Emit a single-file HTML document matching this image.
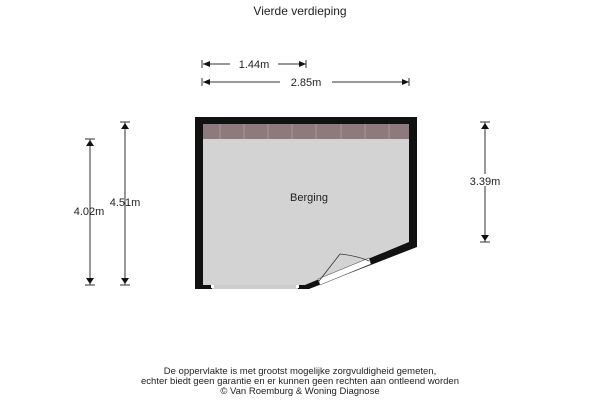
<!DOCTYPE html>
<html><head><style>
body{margin:0;background:#fff;width:600px;height:400px;overflow:hidden}
svg text{font-family:"Liberation Sans",sans-serif;fill:#222}
</style></head><body>
<svg width="600" height="400" viewBox="0 0 600 400">
<text x="300" y="15" font-size="12" text-anchor="middle">Vierde verdieping</text>
<!-- horizontal dims -->
<g stroke="#333" stroke-width="1">
<line x1="203" y1="64" x2="306" y2="64"/>
<line x1="203" y1="82" x2="409" y2="82"/>
<line x1="202" y1="60" x2="202" y2="68"/><line x1="306" y1="60" x2="306" y2="68"/>
<line x1="202" y1="78" x2="202" y2="86"/><line x1="409" y1="78" x2="409" y2="86"/>
<line x1="90" y1="139" x2="90" y2="285"/>
<line x1="125" y1="122" x2="125" y2="285"/>
<line x1="485" y1="122" x2="485" y2="242"/>
<line x1="85" y1="139" x2="95" y2="139"/><line x1="85" y1="285" x2="95" y2="285"/>
<line x1="120" y1="122" x2="130" y2="122"/><line x1="120" y1="285" x2="130" y2="285"/>
<line x1="480" y1="122" x2="490" y2="122"/><line x1="480" y1="242" x2="490" y2="242"/>
</g>
<g fill="#111">
<polygon points="203,64 210,61 210,67"/><polygon points="306,64 299,61 299,67"/>
<polygon points="203,82 210,79 210,85"/><polygon points="409,82 402,79 402,85"/>
<polygon points="90,140 86,146 94,146"/><polygon points="90,284 86,278 94,278"/>
<polygon points="125,123 121,129 129,129"/><polygon points="125,284 121,278 129,278"/>
<polygon points="485,123 481,129 489,129"/><polygon points="485,241 481,235 489,235"/>
</g>
<rect x="230" y="58" width="48" height="12" fill="#fff"/>
<text x="254" y="68" font-size="11" text-anchor="middle">1.44m</text>
<rect x="280" y="76" width="52" height="12" fill="#fff"/>
<text x="306" y="86" font-size="11" text-anchor="middle">2.85m</text>
<text x="89" y="215" font-size="11" text-anchor="middle">4.02m</text>
<text x="125" y="206" font-size="11" text-anchor="middle">4.51m</text>
<rect x="462" y="174" width="46" height="12" fill="#fff"/>
<text x="485" y="185" font-size="11" text-anchor="middle">3.39m</text>
<!-- floor plan -->
<polygon points="195,117 417,117 417,247 309,289 195,289" fill="#111"/>
<polygon points="203,124 409,124 409,242 305,285 203,285" fill="#d3d3d3"/>
<rect x="203" y="124" width="206" height="15" fill="#8c7a7c"/>
<g stroke="#a89698" stroke-width="1">
<line x1="220" y1="124" x2="220" y2="139"/><line x1="244" y1="124" x2="244" y2="139"/>
<line x1="268" y1="124" x2="268" y2="139"/><line x1="292" y1="124" x2="292" y2="139"/>
<line x1="316" y1="124" x2="316" y2="139"/><line x1="341" y1="124" x2="341" y2="139"/>
<line x1="365" y1="124" x2="365" y2="139"/><line x1="389" y1="124" x2="389" y2="139"/>
</g>
<rect x="212" y="285" width="86" height="4" fill="#ccc"/>
<rect x="211" y="285" width="3" height="3" fill="#fff"/><rect x="296" y="285" width="3" height="3" fill="#fff"/>
<polygon points="318,279 369,258 371,264 320,285" fill="#fff" stroke="#555" stroke-width="0.6"/>
<path d="M319,281 L340,254 Q358,256 369,261" fill="none" stroke="#333" stroke-width="0.8"/>
<text x="309" y="201" font-size="11" text-anchor="middle">Berging</text>
<text x="300" y="374" font-size="9.5" text-anchor="middle">De oppervlakte is met grootst mogelijke zorgvuldigheid gemeten,</text>
<text x="300" y="384" font-size="9.5" text-anchor="middle">echter biedt geen garantie en er kunnen geen rechten aan ontleend worden</text>
<text x="300" y="394" font-size="9.5" text-anchor="middle">© Van Roemburg &amp; Woning Diagnose</text>
</svg>
</body></html>
